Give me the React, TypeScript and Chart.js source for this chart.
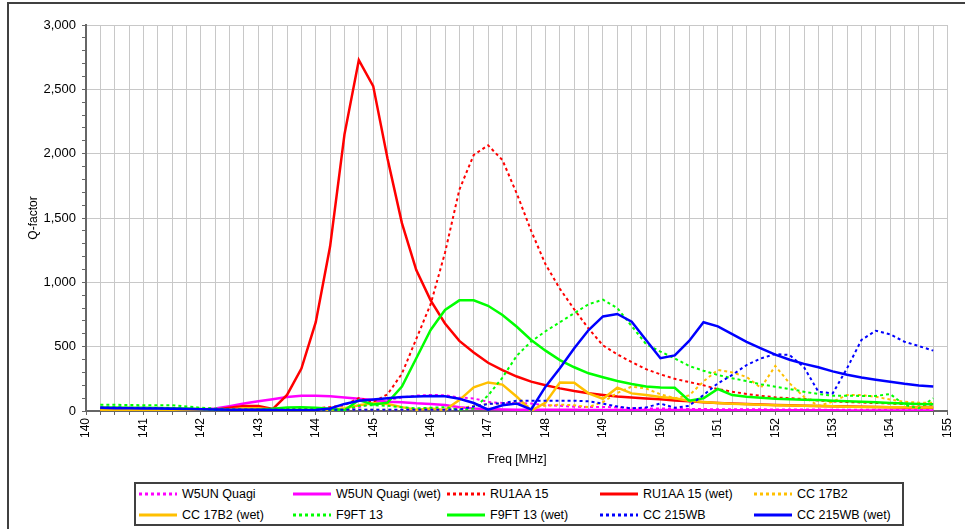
import React, { useEffect, useRef } from "react";
import { Chart, registerables } from "chart.js";

Chart.register(...registerables);

const FONT = '"Liberation Sans", Arial, sans-serif';

// frequency points [MHz]
const freqs = [
  140.25, 140.5, 140.75, 141, 141.25, 141.5, 141.75, 142, 142.25, 142.5,
  142.75, 143, 143.25, 143.5, 143.75, 144, 144.25, 144.5, 144.75, 145,
  145.25, 145.5, 145.75, 146, 146.25, 146.5, 146.75, 147, 147.25, 147.5,
  147.75, 148, 148.25, 148.5, 148.75, 149, 149.25, 149.5, 149.75, 150,
  150.25, 150.5, 150.75, 151, 151.25, 151.5, 151.75, 152, 152.25, 152.5,
  152.75, 153, 153.25, 153.5, 153.75, 154, 154.25, 154.5, 154.75,
];

const w5unQuagi = [
  5, 5, 5, 5, 5, 5, 5, 5, 5, 5,
  5, 5, 5, 5, 5, 5, 5, 10, 30, 60,
  85, 105, 120, 125, 122, 105, 98, 70, 62, 62,
  58, 45, 40, 33, 30, 32, 28, 22, 20, 20,
  18, 16, 15, 14, 14, 13, 13, 12, 12, 11,
  11, 10, 10, 9, 9, 8, 8, 8, 8,
];
const w5unQuagiWet = [
  10, 10, 10, 10, 10, 10, 10, 12, 20, 38,
  58, 75, 92, 108, 118, 118, 115, 105, 95, 85,
  72, 68, 60, 55, 47, 30, 20, 15, 12, 10,
  10, 9, 9, 9, 8, 8, 8, 8, 7, 7,
  7, 7, 6, 6, 6, 6, 5, 5, 5, 5,
  5, 5, 4, 4, 4, 4, 4, 4, 4,
];
const ru1aa15 = [
  15, 15, 12, 12, 10, 10, 10, 10, 10, 10,
  12, 12, 12, 15, 15, 20, 30, 45, 100, 70,
  130, 290, 560, 830, 1230, 1720, 1990, 2065, 1950, 1690,
  1400, 1140, 950, 790, 640, 510, 440, 380, 325, 285,
  250, 225, 200, 170, 150, 132, 118, 106, 99, 93,
  82, 75, 70, 66, 62, 58, 54, 50, 48,
];
const ru1aa15Wet = [
  10, 8, 5, 5, 5, 5, 5, 5, 10, 25,
  38, 38, 15, 125, 330, 690, 1280, 2150, 2727, 2525,
  1960, 1460, 1095, 860, 680, 545, 455, 375, 318, 268,
  228, 200, 176, 155, 138, 124, 112, 105, 98, 91,
  82, 75, 68, 62, 58, 54, 50, 47, 44, 41,
  39, 37, 35, 33, 31, 29, 28, 27, 26,
];
const cc17b2 = [
  5, 5, 5, 5, 5, 5, 5, 5, 5, 8,
  10, 10, 8, 5, 5, 5, 5, 8, 10, 10,
  10, 8, 5, 5, 10, 20, 40, 55, 58, 62,
  30, 40, 50, 45, 30, 70, 140, 190, 175, 130,
  100, 120, 230, 320, 300, 265, 180, 350, 215, 110,
  40, 72, 124, 124, 110, 90, 72, 65, 65,
];
const cc17b2Wet = [
  5, 5, 5, 5, 5, 5, 5, 5, 8, 12,
  22, 22, 12, 5, 3, 3, 8, 22, 45, 60,
  55, 30, 10, 20, 8, 85, 184, 222, 205, 111,
  2, 65, 222, 220, 137, 95, 181, 137, 124, 108,
  99, 80, 70, 62, 56, 52, 48, 45, 42, 40,
  38, 36, 34, 32, 31, 30, 29, 28, 28,
];
const f9ft13 = [
  48, 48, 47, 45, 45, 45, 35, 25, 20, 15,
  12, 10, 10, 10, 10, 8, 5, 10, 40, 45,
  40, 30, 20, 25, 30, 10, 20, 120, 260, 430,
  540, 620, 690, 760, 830, 865, 800, 660, 520, 462,
  409, 350, 313, 280, 254, 233, 207, 189, 171, 150,
  132, 119, 119, 117, 117, 132, 47, 21, 99,
];
const f9ft13Wet = [
  28, 28, 26, 25, 24, 22, 20, 15, 10, 5,
  5, 10, 18, 28, 30, 25, 18, 5, 85, 50,
  65, 190, 410, 630, 785, 860, 860, 818, 746, 655,
  552, 469, 396, 340, 293, 262, 233, 210, 190, 182,
  181, 80, 99, 171, 124, 111, 103, 96, 92, 88,
  85, 80, 76, 72, 68, 63, 59, 55, 52,
];
const cc215wb = [
  28, 28, 25, 25, 22, 20, 18, 15, 12, 10,
  10, 10, 10, 10, 10, 10, 10, 10, 10, 10,
  10, 10, 10, 10, 10, 12, 35, 55, 60, 80,
  80, 80, 80, 80, 75, 57, 35, 20, 28, 58,
  25, 40, 124, 215, 280, 357, 409, 443, 435, 340,
  150, 137, 332, 552, 624, 596, 538, 505, 469,
];
const cc215wbWet = [
  25, 22, 22, 20, 20, 18, 16, 14, 12, 10,
  10, 10, 8, 6, 5, 8, 20, 55, 80, 90,
  100, 108, 112, 117, 115, 95, 62, 10, 45, 58,
  13, 189, 332, 487, 629, 735, 754, 694, 552, 410,
  432, 544, 690, 658, 598, 538, 487, 438, 398, 366,
  340, 308, 282, 260, 243, 228, 212, 199, 190,
];

const seriesNames = [
  "W5UN Quagi", "W5UN Quagi (wet)", "RU1AA 15", "RU1AA 15 (wet)", "CC 17B2",
  "CC 17B2 (wet)", "F9FT 13", "F9FT 13 (wet)", "CC 215WB", "CC 215WB (wet)",
];
const seriesValues = [
  w5unQuagi, w5unQuagiWet, ru1aa15, ru1aa15Wet, cc17b2,
  cc17b2Wet, f9ft13, f9ft13Wet, cc215wb, cc215wbWet,
];

// styles, kept apart from the data
const seriesColors = [
  "#ff00ff", "#ff00ff", "#ff0000", "#ff0000", "#ffc000",
  "#ffc000", "#00ff00", "#00ff00", "#0000ff", "#0000ff",
];
const seriesDotted = [true, false, true, false, true, false, true, false, true, false];

const legendLeft = [3, 157, 311, 464, 618];

function Legend() {
  return (
    <div
      style={{
        position: "absolute",
        left: 134,
        top: 482,
        width: 770,
        height: 44,
        border: "2px solid #404040",
        boxSizing: "border-box",
        fontFamily: FONT,
        fontSize: 12.5,
        color: "#000",
      }}
    >
      {seriesNames.map((name, i) => (
        <div
          key={name}
          style={{
            position: "absolute",
            left: legendLeft[i % 5],
            top: i < 5 ? 2 : 23,
            height: 16,
            display: "flex",
            alignItems: "center",
            whiteSpace: "nowrap",
          }}
        >
          <svg width={38} height={6} style={{ display: "block" }}>
            <line
              x1={0}
              y1={3}
              x2={38}
              y2={3}
              stroke={seriesColors[i]}
              strokeWidth={3}
              strokeDasharray={seriesDotted[i] ? "3 3" : undefined}
            />
          </svg>
          <span style={{ marginLeft: 5 }}>{name}</span>
        </div>
      ))}
    </div>
  );
}

export default function App() {
  const canvasRef = useRef<HTMLCanvasElement>(null);

  useEffect(() => {
    if (!canvasRef.current) return;
    const n = seriesNames.length;
    const chart = new Chart(canvasRef.current, {
      type: "line",
      data: {
        datasets: seriesNames.map((name, i) => ({
          label: name,
          data: freqs.map((f, k) => ({ x: f, y: seriesValues[i][k] })),
          borderColor: seriesColors[i],
          backgroundColor: seriesColors[i],
          borderWidth: seriesDotted[i] ? 2 : 2.5,
          borderDash: seriesDotted[i] ? [3, 3] : [],
          pointRadius: 0,
          tension: 0,
          fill: false,
          order: n - i,
        })),
      },
      options: {
        animation: false,
        responsive: true,
        maintainAspectRatio: false,
        layout: { padding: { left: 8, top: 25, right: 12, bottom: 0 } },
        plugins: { legend: { display: false }, tooltip: { enabled: false } },
        scales: {
          x: {
            type: "linear",
            min: 140,
            max: 155,
            ticks: {
              stepSize: 0.25,
              autoSkip: false,
              minRotation: 90,
              maxRotation: 90,
              padding: 3,
              color: "#000",
              font: { family: FONT, size: 12 },
              callback: (v: any) => (Number.isInteger(v) ? String(v) : ""),
            },
            grid: { color: "#c8c8c8", tickColor: "#666", tickLength: 4 },
            border: { color: "#666", width: 2 },
            title: {
              display: true,
              text: "Freq [MHz]",
              color: "#000",
              font: { family: FONT, size: 12 },
              padding: { top: 0, bottom: 8 },
            },
            afterFit: (s: any) => {
              s.height = 64;
            },
          },
          y: {
            min: 0,
            max: 3000,
            ticks: {
              stepSize: 100,
              autoSkip: false,
              padding: 6,
              color: "#000",
              font: { family: FONT, size: 13 },
              callback: (v: any) => (v % 500 === 0 ? Number(v).toLocaleString("en-US") : ""),
            },
            grid: {
              color: (ctx: any) =>
                ctx.tick && ctx.tick.value % 500 === 0 ? "#c8c8c8" : "rgba(0,0,0,0)",
              tickColor: "#666",
              tickLength: 4,
            },
            border: { color: "#666", width: 2 },
            title: {
              display: true,
              text: "Q-factor",
              color: "#000",
              font: { family: FONT, size: 12 },
              padding: { top: 18, bottom: 0 },
            },
            afterFit: (s: any) => {
              s.width = 78;
            },
          },
        },
      },
    });
    return () => chart.destroy();
  }, []);

  return (
    <div
      style={{
        position: "fixed",
        left: 0,
        top: 0,
        width: 965,
        height: 529,
        background: "#fff",
        overflow: "hidden",
      }}
    >
      <div
        style={{
          position: "absolute",
          left: 7,
          top: 2,
          right: 0,
          bottom: 0,
          borderTop: "2px solid #404040",
          borderLeft: "2px solid #404040",
        }}
      />
      <div style={{ position: "absolute", left: 0, top: 0, width: 965, height: 475 }}>
        <canvas ref={canvasRef} />
      </div>
      <Legend />
    </div>
  );
}
